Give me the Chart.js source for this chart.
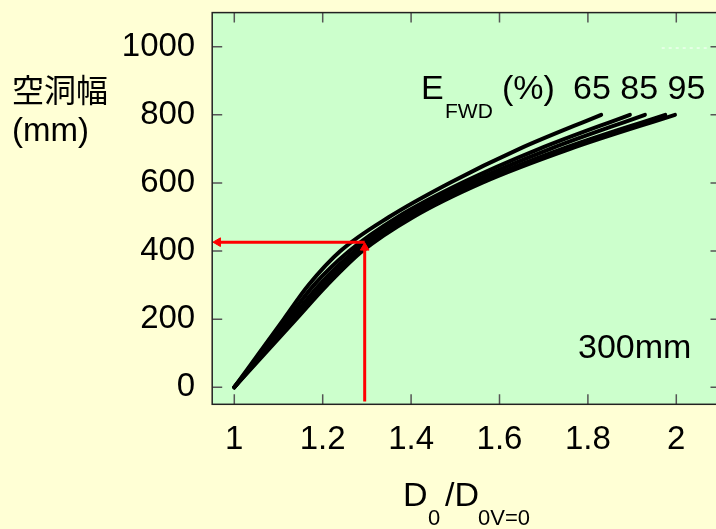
<!DOCTYPE html>
<html>
<head>
<meta charset="utf-8">
<script src="https://cdn.jsdelivr.net/npm/chart.js@4.4.0/dist/chart.umd.min.js"></script>
<style>
  html, body { margin: 0; padding: 0; overflow: hidden; background: #FFFFD5; }
  #wrap { width: 740px; height: 529px; }
</style>
</head>
<body>
<div id="wrap"><canvas id="chart"></canvas></div>
<script>
// 空洞幅 (mm) where each curve was read
const widths = [0, 100, 200, 300, 400, 500, 600, 700, 800];
// D0/D0V=0 at those widths (top curve first)
const curveA = [1.0, 1.056, 1.112, 1.168, 1.24, 1.35, 1.487, 1.645, 1.83];
const curveB = [1.0, 1.06, 1.12, 1.18, 1.26, 1.37, 1.515, 1.69, 1.895];
const curveC = [1.0, 1.064, 1.128, 1.192, 1.272, 1.38, 1.532, 1.715, 1.929];
const curveD = [1.0, 1.067, 1.134, 1.20, 1.282, 1.393, 1.548, 1.742, 1.975];
const curveE = [1.0, 1.07, 1.14, 1.21, 1.29, 1.405, 1.56, 1.76, 1.997];

const xTicks = [1, 1.2, 1.4, 1.6, 1.8, 2];
const yTicks = [0, 200, 400, 600, 800, 1000];

// red guide lines (vertical up from D0 ratio, then left to the width axis)
const guideUpX = [1.295, 1.295];
const guideUpY = [-42, 410];
const guideLeftX = [1.295, 0.963];
const guideLeftY = [426, 426];
// faint white dashes near the top right
const dashX = [1.967, 2.075];
const dashY = [996, 996];

const FONT = "'Liberation Sans', Arial, sans-serif";

function pts(xs, ys) {
  return xs.map((x, i) => ({ x: x, y: ys[i] }));
}

function curve(xs) {
  return {
    data: pts(xs, widths),
    borderColor: '#000',
    borderWidth: 4,
    borderCapStyle: 'round',
    pointRadius: 0,
    cubicInterpolationMode: 'monotone',
    order: 5
  };
}

const texts = [
  // [text, x, baseline, size, font]
  ['E', 421, 99, 34, FONT],
  ['FWD', 445, 118, 21, FONT],
  ['(%)', 502, 99, 34, FONT],
  ['65 85 95', 573, 99, 34, FONT],
  ['300mm', 578, 358, 34, FONT],
  ['D', 403, 506, 34, FONT],
  ['0', 428, 525, 22, FONT],
  ['/D', 445, 506, 34, FONT],
  ['0V=0', 478, 525, 22, FONT],
  ['空洞幅', 12, 102, 32, "'Noto Sans CJK JP', sans-serif"],
  ['(mm)', 12, 141, 33, FONT]
];

const paper = {
  id: 'paper',
  beforeDraw(chart) {
    const { ctx, chartArea: a } = chart;
    ctx.save();
    ctx.fillStyle = '#FFFFD5';
    ctx.fillRect(0, 0, chart.width, chart.height);
    ctx.fillStyle = '#CCFFCC';
    ctx.fillRect(a.left, a.top, a.right - a.left, a.bottom - a.top);
    ctx.restore();
  },
  afterDraw(chart) {
    const { ctx, chartArea: a, scales } = chart;
    ctx.save();
    ctx.strokeStyle = '#555';
    ctx.lineWidth = 1.5;
    ctx.beginPath();
    xTicks.forEach(v => {
      const px = scales.x.getPixelForValue(v);
      ctx.moveTo(px, a.bottom); ctx.lineTo(px, a.bottom - 10);
      ctx.moveTo(px, a.top); ctx.lineTo(px, a.top + 10);
    });
    yTicks.forEach(v => {
      const py = scales.y.getPixelForValue(v);
      ctx.moveTo(a.left, py); ctx.lineTo(a.left + 10, py);
      ctx.moveTo(a.right, py); ctx.lineTo(a.right - 10, py);
    });
    ctx.stroke();
    ctx.strokeStyle = '#222';
    ctx.lineWidth = 1.5;
    ctx.strokeRect(a.left, a.top, a.right - a.left, a.bottom - a.top);

    ctx.fillStyle = '#000';
    ctx.textBaseline = 'alphabetic';
    ctx.textAlign = 'left';
    texts.forEach(t => {
      ctx.font = t[3] + 'px ' + t[4];
      ctx.fillText(t[0], t[1], t[2]);
    });
    ctx.restore();
  }
};

new Chart(document.getElementById('chart'), {
  type: 'line',
  data: {
    datasets: [
      {
        data: pts(guideUpX, guideUpY),
        borderColor: '#FF0000',
        borderWidth: 3,
        pointRadius: [0, 5],
        pointStyle: 'triangle',
        pointRotation: [0, 0],
        pointBackgroundColor: '#FF0000',
        pointBorderColor: '#FF0000',
        pointBorderWidth: 1,
        order: 1
      },
      {
        data: pts(guideLeftX, guideLeftY),
        borderColor: '#FF0000',
        borderWidth: 3,
        pointRadius: [0, 5],
        pointStyle: 'triangle',
        pointRotation: [0, -90],
        pointBackgroundColor: '#FF0000',
        pointBorderColor: '#FF0000',
        pointBorderWidth: 1,
        order: 1
      },
      {
        data: pts(dashX, dashY),
        borderColor: '#FFFFFF',
        borderWidth: 1,
        borderDash: [3, 4],
        pointRadius: 0,
        order: 2
      },
      curve(curveA),
      curve(curveB),
      curve(curveC),
      curve(curveD),
      curve(curveE)
    ]
  },
  options: {
    responsive: true,
    maintainAspectRatio: false,
    animation: false,
    events: [],
    layout: { padding: { top: 12.6, right: 19.5, bottom: 0, left: 0 } },
    plugins: {
      legend: { display: false },
      tooltip: { enabled: false }
    },
    scales: {
      x: {
        type: 'linear',
        min: 0.95,
        max: 2.1,
        afterBuildTicks: s => { s.ticks = xTicks.map(v => ({ value: v })); },
        afterFit: s => { s.height = 124.7; s.paddingLeft = 0; s.paddingRight = 0; },
        grid: { display: false, drawTicks: false },
        border: { display: false },
        ticks: {
          color: '#000',
          font: { family: FONT, size: 33 },
          padding: 16,
          maxRotation: 0,
          autoSkip: false,
          callback: v => String(v)
        }
      },
      y: {
        type: 'linear',
        min: -50,
        max: 1100,
        afterBuildTicks: s => { s.ticks = yTicks.map(v => ({ value: v })); },
        afterFit: s => { s.width = 212.2; s.paddingTop = 0; s.paddingBottom = 0; },
        grid: { display: false, drawTicks: false },
        border: { display: false },
        ticks: {
          color: '#000',
          font: { family: FONT, size: 33 },
          padding: 17,
          autoSkip: false,
          callback: v => String(v)
        }
      }
    }
  },
  plugins: [paper]
});
</script>
</body>
</html>
